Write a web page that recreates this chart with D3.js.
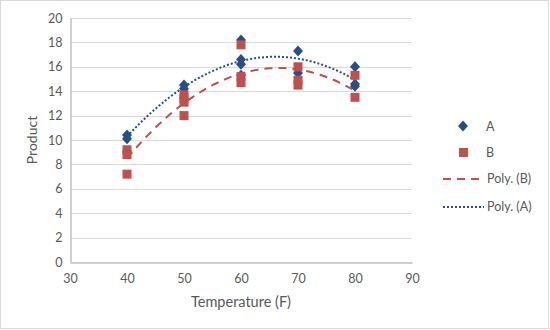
<!DOCTYPE html>
<html>
<head>
<meta charset="utf-8">
<script src="https://cdn.jsdelivr.net/npm/d3@7"></script>
<style>
  body { margin: 0; background: #fff; }
  svg text { font-family: Lato, "Open Sans", sans-serif; fill: #595959; }
</style>
</head>
<body>
<div id="chart"></div>
<script>
// temperature / product readings for the two runs
var tempsA = [40, 40, 50, 50, 60, 60, 60, 60, 70, 70, 80, 80, 80];
var valsA  = [10.4, 10.1, 14.5, 14.2, 18.2, 16.6, 16.2, 15.3, 17.3, 15.5, 16.0, 14.6, 14.4];
var tempsB = [40, 40, 40, 50, 50, 50, 50, 60, 60, 60, 70, 70, 70, 80, 80];
var valsB  = [9.2, 8.8, 7.2, 13.7, 13.4, 13.1, 12.0, 17.8, 15.2, 14.7, 16.0, 14.9, 14.5, 15.3, 13.5];
var xTicks = [30, 40, 50, 60, 70, 80, 90];
var yTicks = [0, 2, 4, 6, 8, 10, 12, 14, 16, 18, 20];

var width = 550, height = 330;
var blue = "#264f86", red = "#c0504d";

var svg = d3.select("#chart").append("svg")
    .attr("width", width).attr("height", height);

// chart border
svg.append("rect")
    .attr("x", 0.5).attr("y", 0.5)
    .attr("width", width - 2).attr("height", height - 2)
    .attr("fill", "#fff").attr("stroke", "#d9d9d9");

var x = d3.scaleLinear().domain([30, 90]).range([70, 412]);
var y = d3.scaleLinear().domain([0, 20]).range([262, 18]);

// gridlines
svg.append("g").selectAll("line").data(yTicks.slice(1)).join("line")
    .attr("x1", x(30)).attr("x2", x(90))
    .attr("y1", d => Math.round(y(d)) + 0.5).attr("y2", d => Math.round(y(d)) + 0.5)
    .attr("stroke", "#d9d9d9").attr("stroke-width", 1);

// axes
var xAxis = svg.append("g")
    .attr("transform", "translate(0," + (Math.round(y(0)) + 0.5) + ")")
    .call(d3.axisBottom(x).tickValues(xTicks).tickSize(0).tickPadding(12));
var yAxis = svg.append("g")
    .attr("transform", "translate(" + (Math.round(x(30)) + 0.5) + ",0)")
    .call(d3.axisLeft(y).tickValues(yTicks).tickSize(0).tickPadding(8));
[xAxis, yAxis].forEach(function(g) {
  g.select(".domain").attr("stroke", "#bfbfbf").attr("stroke-width", 1.5);
  g.selectAll("text").style("font-size", "12.5px").attr("fill", "#595959");
});

svg.append("text")
    .attr("x", x(60)).attr("y", 307)
    .attr("text-anchor", "middle").style("font-size", "14.5px")
    .text("Temperature (F)");
svg.append("text")
    .attr("transform", "translate(37," + y(10) + ") rotate(-90)")
    .attr("text-anchor", "middle").style("font-size", "14px")
    .text("Product");

// second order least squares fit
function polyFit(xs, ys) {
  var n = xs.length, s = [0, 0, 0, 0, 0], t = [0, 0, 0];
  for (var i = 0; i < n; i++) {
    var p = 1;
    for (var k = 0; k < 5; k++) { s[k] += p; if (k < 3) t[k] += p * ys[i]; p *= xs[i]; }
  }
  var m = [[s[0], s[1], s[2], t[0]], [s[1], s[2], s[3], t[1]], [s[2], s[3], s[4], t[2]]];
  for (var c = 0; c < 3; c++) {
    for (var r = c + 1; r < 3; r++) {
      var f = m[r][c] / m[c][c];
      for (var j = c; j < 4; j++) m[r][j] -= f * m[c][j];
    }
  }
  var a = [0, 0, 0];
  for (var r2 = 2; r2 >= 0; r2--) {
    var v = m[r2][3];
    for (var j2 = r2 + 1; j2 < 3; j2++) v -= m[r2][j2] * a[j2];
    a[r2] = v / m[r2][r2];
  }
  return function(xv) { return a[0] + a[1] * xv + a[2] * xv * xv; };
}

var line = d3.line().x(d => x(d[0])).y(d => y(d[1])).curve(d3.curveLinear);
function trend(xs, ys) {
  var f = polyFit(xs, ys);
  return d3.range(40, 80.01, 0.5).map(v => [v, f(v)]);
}

svg.append("path").datum(trend(tempsB, valsB))
    .attr("d", line).attr("fill", "none")
    .attr("stroke", red).attr("stroke-width", 2).attr("stroke-dasharray", "8,6");
svg.append("path").datum(trend(tempsA, valsA))
    .attr("d", line).attr("fill", "none")
    .attr("stroke", blue).attr("stroke-width", 2).attr("stroke-dasharray", "2,2");

var diamond = "M0,-5.5L5,0L0,5.5L-5,0Z";

svg.append("g").selectAll("path").data(d3.zip(tempsA, valsA)).join("path")
    .attr("transform", d => "translate(" + x(d[0]) + "," + y(d[1]) + ")")
    .attr("d", diamond).attr("fill", blue);
svg.append("g").selectAll("rect").data(d3.zip(tempsB, valsB)).join("rect")
    .attr("x", d => x(d[0]) - 4.5).attr("y", d => y(d[1]) - 4.5)
    .attr("width", 9).attr("height", 9).attr("fill", red);

// legend
var lg = svg.append("g").style("font-size", "12.5px");
lg.append("path").attr("transform", "translate(463,126)").attr("d", diamond).attr("fill", blue);
lg.append("text").attr("x", 486).attr("y", 131).text("A");
lg.append("rect").attr("x", 459).attr("y", 148).attr("width", 9).attr("height", 9).attr("fill", red);
lg.append("text").attr("x", 486).attr("y", 157).text("B");
lg.append("line").attr("x1", 443).attr("x2", 484).attr("y1", 179).attr("y2", 179)
    .attr("stroke", red).attr("stroke-width", 2).attr("stroke-dasharray", "8,6");
lg.append("text").attr("x", 487).attr("y", 183).text("Poly. (B)");
lg.append("line").attr("x1", 443).attr("x2", 484).attr("y1", 207).attr("y2", 207)
    .attr("stroke", blue).attr("stroke-width", 2).attr("stroke-dasharray", "2,2");
lg.append("text").attr("x", 487).attr("y", 211).text("Poly. (A)");
</script>
</body>
</html>
